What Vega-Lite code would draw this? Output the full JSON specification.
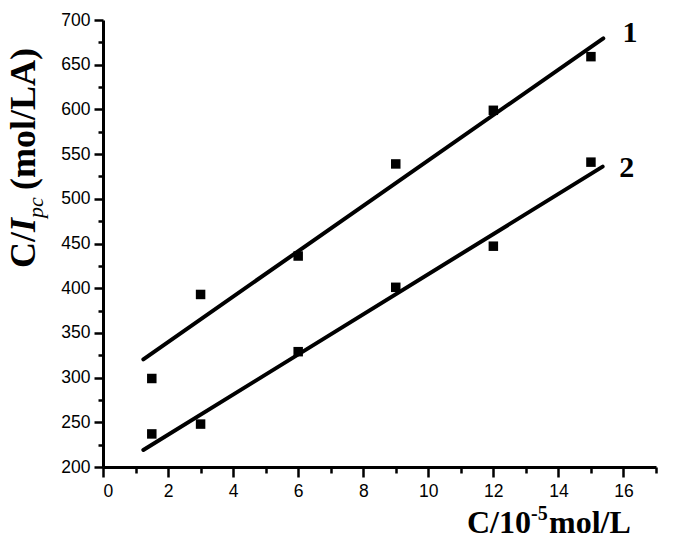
{
  "$schema": "https://vega.github.io/schema/vega-lite/v6.json",
  "width": 553,
  "height": 447,
  "autosize": {"type": "none"},
  "padding": {"left": 103, "top": 20, "right": 17, "bottom": 77},
  "background": "white",
  "config": {
    "view": {"stroke": null},
    "axis": {
      "grid": false,
      "domainColor": "black",
      "domainWidth": 3,
      "tickColor": "black",
      "tickWidth": 2.5,
      "labelColor": "black",
      "labelFont": "Liberation Sans",
      "labelFontSize": 17.5
    }
  },
  "datasets": {
    "points": [
      {"series": "1", "c": 1.5, "v": 299},
      {"series": "1", "c": 3, "v": 393},
      {"series": "1", "c": 6, "v": 436},
      {"series": "1", "c": 9, "v": 539},
      {"series": "1", "c": 12, "v": 599},
      {"series": "1", "c": 15, "v": 659},
      {"series": "2", "c": 1.5, "v": 237},
      {"series": "2", "c": 3, "v": 248},
      {"series": "2", "c": 6, "v": 329},
      {"series": "2", "c": 9, "v": 401},
      {"series": "2", "c": 12, "v": 447},
      {"series": "2", "c": 15, "v": 541}
    ],
    "fits": [
      {"series": "1", "c": 1.24, "v": 320.5},
      {"series": "1", "c": 15.38, "v": 679.5},
      {"series": "2", "c": 1.24, "v": 219},
      {"series": "2", "c": 15.36, "v": 536}
    ],
    "labels": [
      {"label": "1", "c": 16.2, "v": 686},
      {"label": "2", "c": 16.1, "v": 534}
    ],
    "one": [{}]
  },
  "resolve": {"axis": {"x": "independent", "y": "independent"}},
  "layer": [
    {
      "data": {"name": "points"},
      "mark": {"type": "point", "shape": "square", "filled": true, "color": "black", "size": 90, "opacity": 1},
      "encoding": {
        "x": {"field": "c", "type": "quantitative",
              "scale": {"domain": [0, 17], "nice": false, "zero": false},
              "axis": {"orient": "bottom", "values": [0, 2, 4, 6, 8, 10, 12, 14, 16], "title": null, "tickSize": 10, "labelPadding": 5}},
        "y": {"field": "v", "type": "quantitative",
              "scale": {"domain": [200, 700], "nice": false, "zero": false},
              "axis": {"orient": "left", "values": [200, 250, 300, 350, 400, 450, 500, 550, 600, 650, 700], "title": null, "tickSize": 9, "labelPadding": 4}}
      }
    },
    {
      "data": {"name": "fits"},
      "mark": {"type": "line", "color": "black", "strokeWidth": 4, "strokeCap": "round"},
      "encoding": {
        "x": {"field": "c", "type": "quantitative",
              "scale": {"domain": [0, 17], "nice": false, "zero": false},
              "axis": {"orient": "bottom", "values": [1, 3, 5, 7, 9, 11, 13, 15, 17], "labels": false, "domain": false, "title": null, "tickSize": 6}},
        "y": {"field": "v", "type": "quantitative",
              "scale": {"domain": [200, 700], "nice": false, "zero": false},
              "axis": {"orient": "left", "values": [225, 275, 325, 375, 425, 475, 525, 575, 625, 675], "labels": false, "domain": false, "title": null, "tickSize": 5}},
        "detail": {"field": "series"}
      }
    },
    {
      "data": {"name": "labels"},
      "mark": {"type": "text", "font": "Liberation Serif", "fontWeight": "bold", "fontSize": 30, "align": "center", "baseline": "middle", "color": "black"},
      "encoding": {
        "x": {"field": "c", "type": "quantitative", "axis": null},
        "y": {"field": "v", "type": "quantitative", "axis": null},
        "text": {"field": "label"}
      }
    },
    {
      "data": {"name": "one"},
      "mark": {"type": "text", "font": "Liberation Serif", "fontWeight": "bold", "fontSize": 36, "angle": -90, "align": "left", "baseline": "alphabetic", "color": "black"},
      "encoding": {
        "x": {"datum": -2.09, "type": "quantitative", "axis": null},
        "y": {"datum": 422.6, "type": "quantitative", "axis": null},
        "text": {"value": "C/"}
      }
    },
    {
      "data": {"name": "one"},
      "mark": {"type": "text", "font": "Liberation Serif", "fontWeight": "bold", "fontStyle": "italic", "fontSize": 36, "angle": -90, "align": "left", "baseline": "alphabetic", "color": "black"},
      "encoding": {
        "x": {"datum": -2.09, "type": "quantitative", "axis": null},
        "y": {"datum": 462.9, "type": "quantitative", "axis": null},
        "text": {"value": "I"}
      }
    },
    {
      "data": {"name": "one"},
      "mark": {"type": "text", "font": "Liberation Serif", "fontStyle": "italic", "fontSize": 22, "angle": -90, "align": "left", "baseline": "alphabetic", "color": "black"},
      "encoding": {
        "x": {"datum": -1.84, "type": "quantitative", "axis": null},
        "y": {"datum": 478.5, "type": "quantitative", "axis": null},
        "text": {"value": "pc"}
      }
    },
    {
      "data": {"name": "one"},
      "mark": {"type": "text", "font": "Liberation Serif", "fontWeight": "bold", "fontSize": 36, "angle": -90, "align": "left", "baseline": "alphabetic", "color": "black"},
      "encoding": {
        "x": {"datum": -2.09, "type": "quantitative", "axis": null},
        "y": {"datum": 509.8, "type": "quantitative", "axis": null},
        "text": {"value": "(mol/LA)"}
      }
    },
    {
      "data": {"name": "one"},
      "mark": {"type": "text", "font": "Liberation Serif", "fontWeight": "bold", "fontSize": 32, "align": "left", "baseline": "alphabetic", "color": "black"},
      "encoding": {
        "x": {"datum": 11.19, "type": "quantitative", "axis": null},
        "y": {"datum": 126.2, "type": "quantitative", "axis": null},
        "text": {"value": "C/10"}
      }
    },
    {
      "data": {"name": "one"},
      "mark": {"type": "text", "font": "Liberation Serif", "fontWeight": "bold", "fontSize": 20, "align": "left", "baseline": "alphabetic", "color": "black"},
      "encoding": {
        "x": {"datum": 13.16, "type": "quantitative", "axis": null},
        "y": {"datum": 140.7, "type": "quantitative", "axis": null},
        "text": {"value": "-5"}
      }
    },
    {
      "data": {"name": "one"},
      "mark": {"type": "text", "font": "Liberation Serif", "fontWeight": "bold", "fontSize": 32, "align": "left", "baseline": "alphabetic", "color": "black"},
      "encoding": {
        "x": {"datum": 13.71, "type": "quantitative", "axis": null},
        "y": {"datum": 126.2, "type": "quantitative", "axis": null},
        "text": {"value": "mol/L"}
      }
    }
  ]
}
